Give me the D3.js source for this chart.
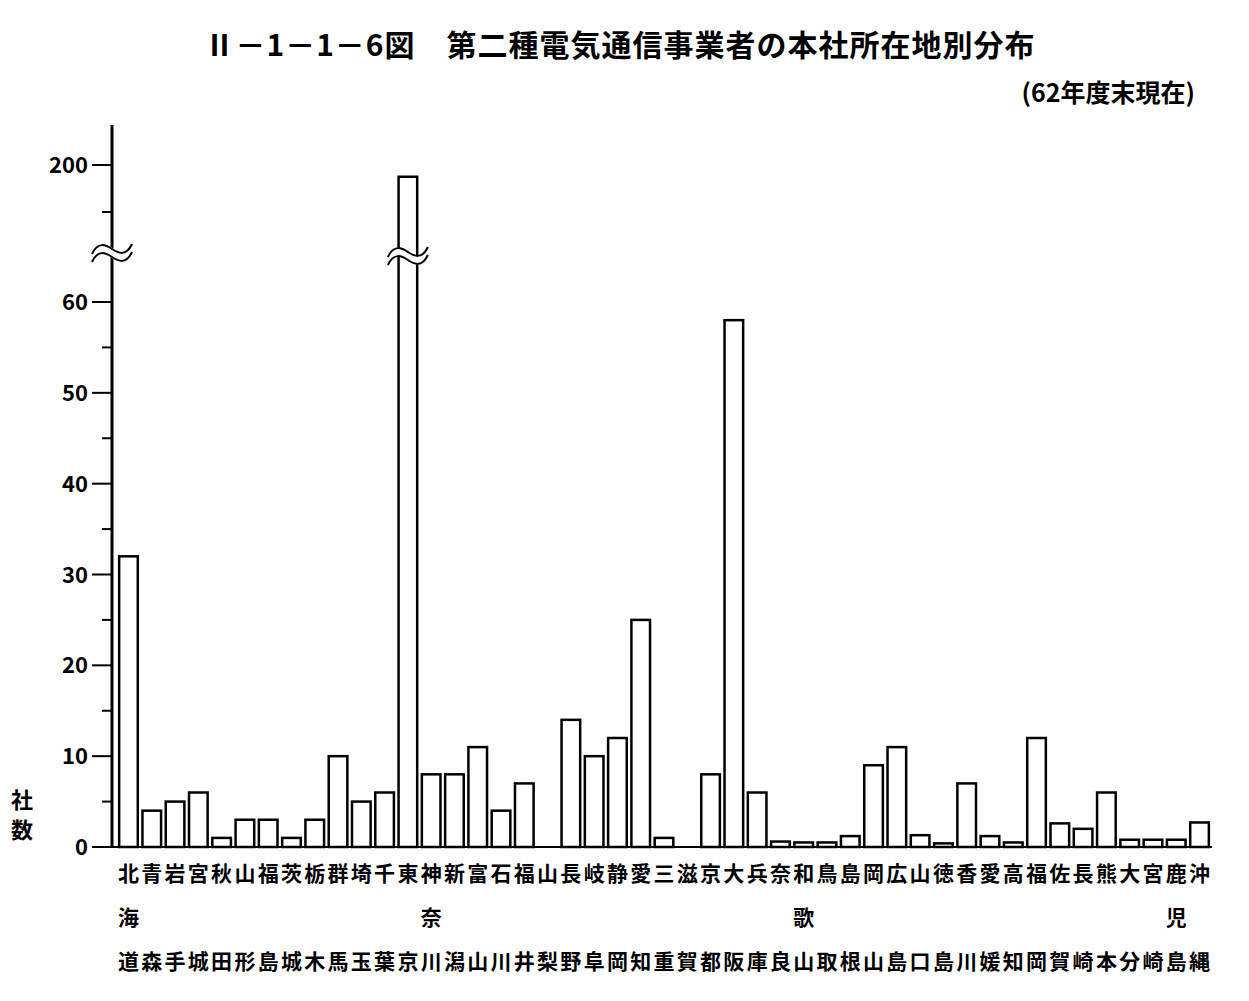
<!DOCTYPE html>
<html><head><meta charset="utf-8">
<script src="https://cdn.jsdelivr.net/npm/d3@7"></script>
<style>body{margin:0;background:#fff}text{font-family:"Noto Sans CJK JP",sans-serif;fill:#000}</style>
</head><body><svg id="c" width="1249" height="1001"></svg>
<script>
const prefectures = ['北海道','青森','岩手','宮城','秋田','山形','福島','茨城','栃木','群馬','埼玉','千葉','東京','神奈川','新潟','富山','石川','福井','山梨','長野','岐阜','静岡','愛知','三重','滋賀','京都','大阪','兵庫','奈良','和歌山','鳥取','島根','岡山','広島','山口','徳島','香川','愛媛','高知','福岡','佐賀','長崎','熊本','大分','宮崎','鹿児島','沖縄'];
const counts = [32,4,5,6,1,3,3,1,3,10,5,6,197.5,8,8,11,4,7,0,14,10,12,25,1,0,8,58,6,0.6,0.5,0.5,1.2,9,11,1.3,0.4,7,1.2,0.5,12,2.6,2,6,0.8,0.8,0.8,2.7];
const lowTicks = [0,10,20,30,40,50,60];
const highTicks = [200];

const svg = d3.select('#c');
const x = d3.scaleBand().domain(prefectures).range([118, 1210]).paddingInner(0.2).paddingOuter(0.05);
const yLow = d3.scaleLinear().domain([0, 60]).range([847, 302]);
const yHigh = d3.scaleLinear().domain([190, 200]).range([212, 165]);
const y = v => v > 70 ? yHigh(v) : yLow(v);
const axisX = 112;

// title
svg.append('text').attr('x', 620).attr('y', 56).attr('text-anchor', 'middle')
  .style('font-size', '30px').style('font-weight', 'bold').style('letter-spacing', '1px')
  .text('Ⅱ－1－1－6図　第二種電気通信事業者の本社所在地別分布');
svg.append('text').attr('x', 1195).attr('y', 102).attr('text-anchor', 'end')
  .style('font-size', '25px').style('font-weight', 'bold').text('(62年度末現在)');

// axis
svg.append('line').attr('x1', axisX).attr('x2', axisX).attr('y1', 125).attr('y2', 847)
  .attr('stroke', '#000').attr('stroke-width', 3);
svg.append('line').attr('x1', axisX).attr('x2', 1212).attr('y1', 847).attr('y2', 847)
  .attr('stroke', '#000').attr('stroke-width', 2);
lowTicks.forEach(t => {
  svg.append('line').attr('x1', axisX - 20).attr('x2', axisX).attr('y1', yLow(t)).attr('y2', yLow(t)).attr('stroke', '#000').attr('stroke-width', 2);
  svg.append('text').attr('x', axisX - 24).attr('y', yLow(t) + 8).attr('text-anchor', 'end')
    .style('font-size', '22px').style('font-weight', 'bold').text(t);
});
d3.range(5, 60, 10).forEach(t => {
  svg.append('line').attr('x1', axisX - 10).attr('x2', axisX).attr('y1', yLow(t)).attr('y2', yLow(t)).attr('stroke', '#000').attr('stroke-width', 2);
});
highTicks.forEach(t => {
  svg.append('line').attr('x1', axisX - 20).attr('x2', axisX).attr('y1', yHigh(t)).attr('y2', yHigh(t)).attr('stroke', '#000').attr('stroke-width', 2);
  svg.append('text').attr('x', axisX - 24).attr('y', yHigh(t) + 8).attr('text-anchor', 'end')
    .style('font-size', '22px').style('font-weight', 'bold').text(t);
});
svg.append('line').attr('x1', axisX - 10).attr('x2', axisX).attr('y1', yHigh(190)).attr('y2', yHigh(190)).attr('stroke', '#000').attr('stroke-width', 2);

// bars
svg.selectAll('rect.bar').data(prefectures).enter().append('rect')
  .attr('x', d => x(d)).attr('width', x.bandwidth())
  .attr('y', (d, i) => y(counts[i])).attr('height', (d, i) => 847 - y(counts[i]))
  .attr('fill', '#fff').attr('stroke', '#000').attr('stroke-width', 2.5)
  .attr('display', (d, i) => counts[i] > 0 ? null : 'none');

// break marks
function wave(cx, cy) {
  const p = `M${cx-20},${cy+5} C${cx-14},${cy-8} ${cx-6},${cy-4} ${cx},${cy} S${cx+14},${cy+8} ${cx+20},${cy-5}`;
  svg.append('path').attr('d', p).attr('fill', 'none').attr('stroke', '#fff').attr('stroke-width', 9);
  svg.append('path').attr('d', p).attr('transform', 'translate(0,-4)').attr('fill', 'none').attr('stroke', '#000').attr('stroke-width', 2);
  svg.append('path').attr('d', p).attr('transform', 'translate(0,4)').attr('fill', 'none').attr('stroke', '#000').attr('stroke-width', 2);
}
wave(axisX, 253);
wave(x('東京') + x.bandwidth() / 2, 256);

// category labels
prefectures.forEach(p => {
  const cx = x(p) + x.bandwidth() / 2;
  const chars = [...p];
  const rows = chars.length === 3 ? chars : [chars[0], '', chars[1]];
  rows.forEach((c, r) => {
    svg.append('text').attr('x', cx).attr('y', 881 + r * 44).attr('text-anchor', 'middle')
      .style('font-size', '21px').style('font-weight', 'bold').text(c);
  });
});

// y label
svg.append('text').attr('x', 22).attr('y', 808).attr('text-anchor', 'middle').style('font-size', '22px').style('font-weight', 'bold').text('社');
svg.append('text').attr('x', 22).attr('y', 838).attr('text-anchor', 'middle').style('font-size', '22px').style('font-weight', 'bold').text('数');
</script></body></html>
